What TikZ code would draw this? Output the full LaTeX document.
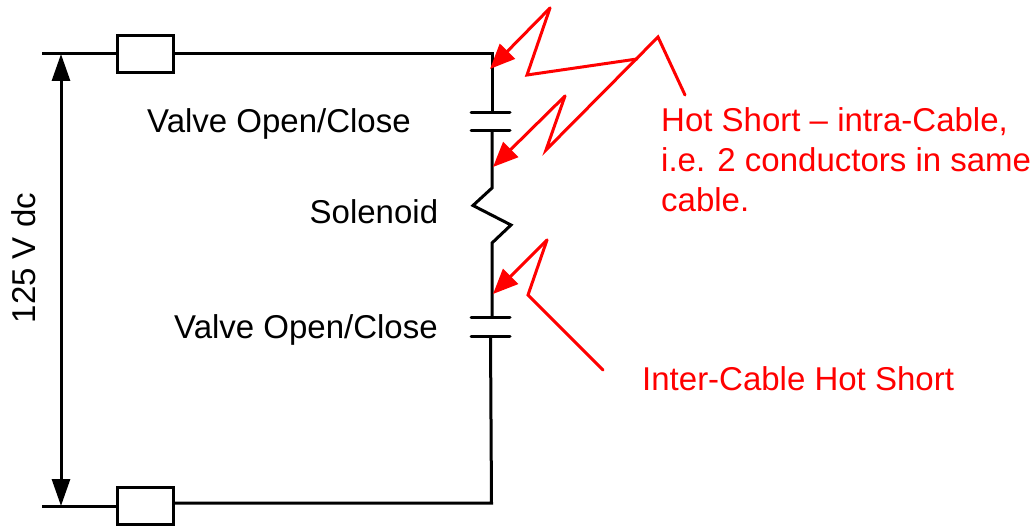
\documentclass[tikz,border=0pt]{standalone}
\usepackage{fontspec}
\setmainfont{Liberation Sans}
\usetikzlibrary{arrows.meta}
\tikzset{
  wire/.style={draw=black,line width=3pt,line join=miter},
  fuse/.style={draw=black,line width=3pt,fill=white,minimum width=56pt,minimum height=37pt,inner sep=0pt,outer sep=0pt},
  plate/.style={draw=black,line width=3pt,line cap=round},
  hot/.style={draw=red,line width=3pt,line join=miter,line cap=round},
  hotarrow/.style={hot,-{Triangle[length=25pt,width=21pt,fill=red]}},
  volt/.style={draw=black,line width=3pt,{Triangle[length=27pt,width=18pt]}-{Triangle[length=27pt,width=18pt]}},
  lab/.style={font=\fontsize{33}{40}\selectfont,anchor=base west,inner sep=0pt},
  redlab/.style={lab,text=red}
}
\begin{document}
\begin{tikzpicture}[x=1pt,y=-1pt]
\useasboundingbox (0,0) rectangle (1034,529);
% named points
\coordinate (tl) at (42,54);
\coordinate (tr) at (492,54);
\coordinate (bl) at (42,506);
\coordinate (br) at (492,503);
\coordinate (p1a) at (492,113);
\coordinate (p1b) at (492,131);
\coordinate (p2a) at (492,318);
\coordinate (p2b) at (490.5,337);
\coordinate (va) at (61,54);
\coordinate (vb) at (61,506);
\node[fuse] (f1) at (145,54) {};
\node[fuse] (f2) at (145.5,506) {};
% wires
\draw[wire] (tl) -- (f1.west);
\draw[wire] (f1.east) -- (tr) -- (p1a);
\draw[wire] (p1b) -- (492,188) -- (473,205.5) -- (511,225) -- (492,243) -- (p2a);
\draw[wire] (p2b) -- (491.5,503) -- (f2.east |- br);
\draw[wire] (bl) -- (f2.west);
% capacitors
\draw[plate] (471,113) -- (510,113);
\draw[plate] (471,131) -- (510,131);
\draw[plate] (471,318) -- (510,318);
\draw[plate] (471,337) -- (510,337);
% voltage arrow
\draw[volt] (va) -- (vb);
% hot shorts
\coordinate (h1) at (550,8);
\coordinate (h2) at (527,75);
\coordinate (h3) at (637,59);
\coordinate (h4) at (658,37);
\coordinate (h5) at (685,95);
\coordinate (h6) at (546,150);
\coordinate (h7) at (565,96);
\coordinate (t1) at (490,69);
\coordinate (t2) at (493,167);
\coordinate (j1) at (547,240);
\coordinate (j2) at (528,295);
\coordinate (j3) at (603,370);
\coordinate (t3) at (493,294);
\draw[hot] (h3) -- (h2) -- (h1);
\draw[hotarrow] (h1) -- (t1);
\draw[hot] (h5) -- (h4) -- (h6) -- (h7);
\draw[hotarrow] (h7) -- (t2);
\draw[hot] (j3) -- (j2) -- (j1);
\draw[hotarrow] (j1) -- (t3);
% labels
\node[lab] (l1) at (147,133) {Valve Open/Close};
\node[lab] (l2) at (309.5,224) {Solenoid};
\node[lab] (l3) at (174,339) {Valve Open/Close};
\node[lab,rotate=90] (l4) at (35,323.5) {125 V dc};
\node[redlab] (r1) at (661,132) {Hot Short – intra-Cable,};
\node[redlab] (r2) at (661,172) {i.e. 2 conductors in same};
\node[redlab] (r3) at (661,212) {cable.};
\node[redlab] (r4) at (642,391) {Inter-Cable Hot Short};
\end{tikzpicture}
\end{document}
